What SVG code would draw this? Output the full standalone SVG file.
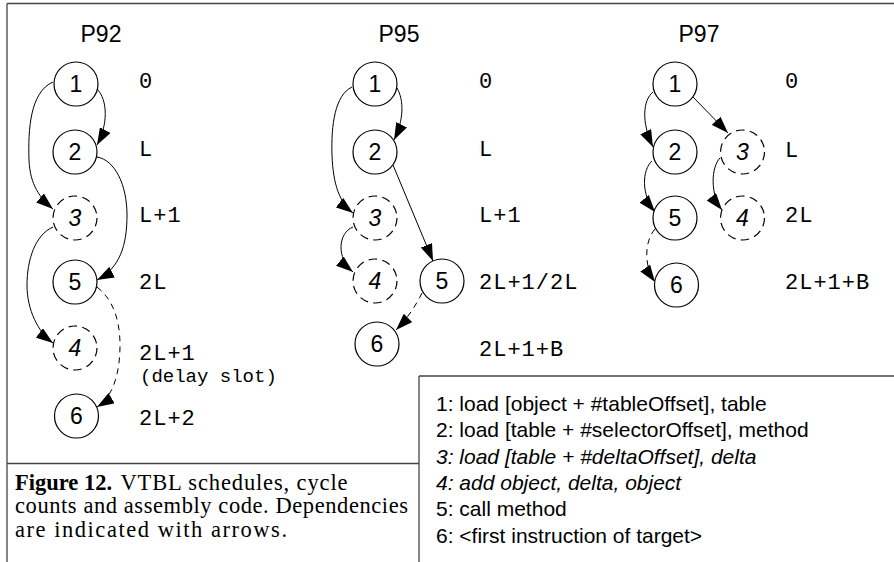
<svg xmlns="http://www.w3.org/2000/svg" width="894" height="562" viewBox="0 0 894 562">
<style>
  .frame { fill: none; stroke: #444; stroke-width: 1.3; }
  .node { fill: #fff; stroke: #000; stroke-width: 1.2; }
  .dnode { fill: #fff; stroke: #000; stroke-width: 1.2; stroke-dasharray: 8.5 5.3; }
  .num { font-family: "Liberation Sans", Arial, sans-serif; font-size: 23px; text-anchor: middle; fill: #000; }
  .inum { font-style: italic; }
  .title { font-family: "Liberation Sans", Arial, sans-serif; font-size: 23px; text-anchor: middle; fill: #000; }
  .cyc { font-family: "Liberation Mono", "Courier New", monospace; font-size: 22px; letter-spacing: 1px; fill: #000; }
  .cycs { font-family: "Liberation Mono", "Courier New", monospace; font-size: 19px; fill: #000; }
  .edge { fill: none; stroke: #000; stroke-width: 1; marker-end: url(#ah); }
  .dash { stroke-dasharray: 6 5; }
  .leg { font-family: "Liberation Sans", Arial, sans-serif; font-size: 21px; fill: #000; }
  .cap { font-family: "Liberation Serif", "Times New Roman", serif; font-size: 22.5px; fill: #000; }
</style>
<defs>
  <marker id="ah" markerUnits="userSpaceOnUse" markerWidth="17" markerHeight="12" refX="17" refY="6" orient="auto" viewBox="0 0 17 12">
    <path d="M0,0 L17,6 L0,12 z" fill="#000"/>
  </marker>
</defs>

<g id="frame">
  <line class="frame" x1="7" y1="3.5" x2="894" y2="3.5"/>
  <line class="frame" x1="7" y1="3.5" x2="7" y2="562"/>
  <line class="frame" x1="7" y1="463.5" x2="419" y2="463.5"/>
  <line class="frame" x1="419" y1="376" x2="894" y2="376"/>
  <line class="frame" x1="419" y1="376" x2="419" y2="562"/>
</g>

<g id="titles">
  <text class="title" x="101" y="42">P92</text>
  <text class="title" x="399" y="42">P95</text>
  <text class="title" x="699" y="42">P97</text>
</g>

<g id="connectors">
  <!-- P92 -->
  <path class="edge" d="M97,89 C108,100 108,125 97,145"/>
  <path class="edge" d="M53,82 C30,92 28,130 29,160 C30,185 40,198 53,209"/>
  <path class="edge" d="M97,157 C115,160 127,185 127,215 C127,245 120,268 97,280"/>
  <path class="edge" d="M53,227 C35,235 27,260 27,285 C27,310 38,332 53,343"/>
  <path class="edge dash" d="M97,287 C110,297 120,315 120,345 C120,375 112,398 97,407"/>
  <!-- P95 -->
  <path class="edge" d="M397,88 C404,100 404,120 394,140"/>
  <path class="edge" d="M352,87 C335,95 331,125 332,155 C333,185 340,203 353,213"/>
  <path class="edge" d="M393,165 L433,261"/>
  <path class="edge" d="M353,227 C338,233 336,258 353,272"/>
  <path class="edge dash" d="M422,293 C416,305 408,318 396,330"/>
  <!-- P97 -->
  <path class="edge" d="M653,92 C643,100 641,122 653,147"/>
  <path class="edge" d="M693,97 L728,133"/>
  <path class="edge" d="M652,161 C642,170 641,195 655,212"/>
  <path class="edge" d="M720,158 C711,167 710,195 722,210"/>
  <path class="edge dash" d="M655,229 C645,240 643,265 655,282"/>
</g>

<!-- P92 nodes -->
<g id="p92-n1"><circle class="node" cx="76" cy="84" r="22"/><text class="num" x="76" y="92">1</text></g>
<g id="p92-n2"><circle class="node" cx="75" cy="152" r="22"/><text class="num" x="75" y="160">2</text></g>
<g id="p92-n3"><circle class="dnode" cx="75" cy="218" r="22"/><text class="num inum" x="75" y="226">3</text></g>
<g id="p92-n5"><circle class="node" cx="75" cy="282" r="22"/><text class="num" x="75" y="290">5</text></g>
<g id="p92-n4"><circle class="dnode" cx="75" cy="348" r="22"/><text class="num inum" x="75" y="356">4</text></g>
<g id="p92-n6"><circle class="node" cx="76.5" cy="416" r="22"/><text class="num" x="76.5" y="424">6</text></g>

<!-- P95 nodes -->
<g id="p95-n1"><circle class="node" cx="375" cy="84" r="22"/><text class="num" x="375" y="92">1</text></g>
<g id="p95-n2"><circle class="node" cx="375" cy="152" r="22"/><text class="num" x="375" y="160">2</text></g>
<g id="p95-n3"><circle class="dnode" cx="375" cy="218" r="22"/><text class="num inum" x="375" y="226">3</text></g>
<g id="p95-n4"><circle class="dnode" cx="375" cy="281" r="22"/><text class="num inum" x="375" y="289">4</text></g>
<g id="p95-n5"><circle class="node" cx="442" cy="281" r="22"/><text class="num" x="442" y="289">5</text></g>
<g id="p95-n6"><circle class="node" cx="377" cy="344" r="22"/><text class="num" x="377" y="352">6</text></g>

<!-- P97 nodes -->
<g id="p97-n1"><circle class="node" cx="675" cy="84" r="22"/><text class="num" x="675" y="92">1</text></g>
<g id="p97-n2"><circle class="node" cx="675" cy="152" r="22"/><text class="num" x="675" y="160">2</text></g>
<g id="p97-n3"><circle class="dnode" cx="742.5" cy="152" r="22"/><text class="num inum" x="742.5" y="160">3</text></g>
<g id="p97-n5"><circle class="node" cx="675" cy="218" r="22"/><text class="num" x="675" y="226">5</text></g>
<g id="p97-n4"><circle class="dnode" cx="742.5" cy="218" r="22"/><text class="num inum" x="742.5" y="226">4</text></g>
<g id="p97-n6"><circle class="node" cx="676.5" cy="285" r="22"/><text class="num" x="676.5" y="293">6</text></g>

<g id="cycles">
  <text class="cyc" x="139" y="88">0</text>
  <text class="cyc" x="139" y="156">L</text>
  <text class="cyc" x="139" y="222">L+1</text>
  <text class="cyc" x="139" y="289">2L</text>
  <text class="cyc" x="139" y="360">2L+1</text>
  <text class="cycs" x="140" y="382">(delay slot)</text>
  <text class="cyc" x="139" y="425">2L+2</text>

  <text class="cyc" x="479" y="88">0</text>
  <text class="cyc" x="479" y="156">L</text>
  <text class="cyc" x="479" y="222">L+1</text>
  <text class="cyc" x="479" y="289">2L+1/2L</text>
  <text class="cyc" x="479" y="356">2L+1+B</text>

  <text class="cyc" x="785" y="88">0</text>
  <text class="cyc" x="785" y="157">L</text>
  <text class="cyc" x="785" y="222">2L</text>
  <text class="cyc" x="785" y="289">2L+1+B</text>
</g>

<g id="legend">
  <text class="leg" x="436" y="411">1: load [object + #tableOffset], table</text>
  <text class="leg" x="436" y="437">2: load [table + #selectorOffset], method</text>
  <text class="leg" x="436" y="463.5" font-style="italic">3: load [table + #deltaOffset], delta</text>
  <text class="leg" x="436" y="490" font-style="italic">4: add object, delta, object</text>
  <text class="leg" x="436" y="516">5: call method</text>
  <text class="leg" x="436" y="542.5">6: &lt;first instruction of target&gt;</text>
</g>

<g id="caption">
  <text class="cap" x="15" y="490"><tspan font-weight="bold">Figure 12.</tspan><tspan x="120.5" textLength="227" lengthAdjust="spacing">VTBL schedules, cycle</tspan><tspan x="15" y="513" textLength="393" lengthAdjust="spacing">counts and assembly code. Dependencies</tspan><tspan x="15" y="537" textLength="272" lengthAdjust="spacing">are indicated with arrows.</tspan></text>
</g>
</svg>
